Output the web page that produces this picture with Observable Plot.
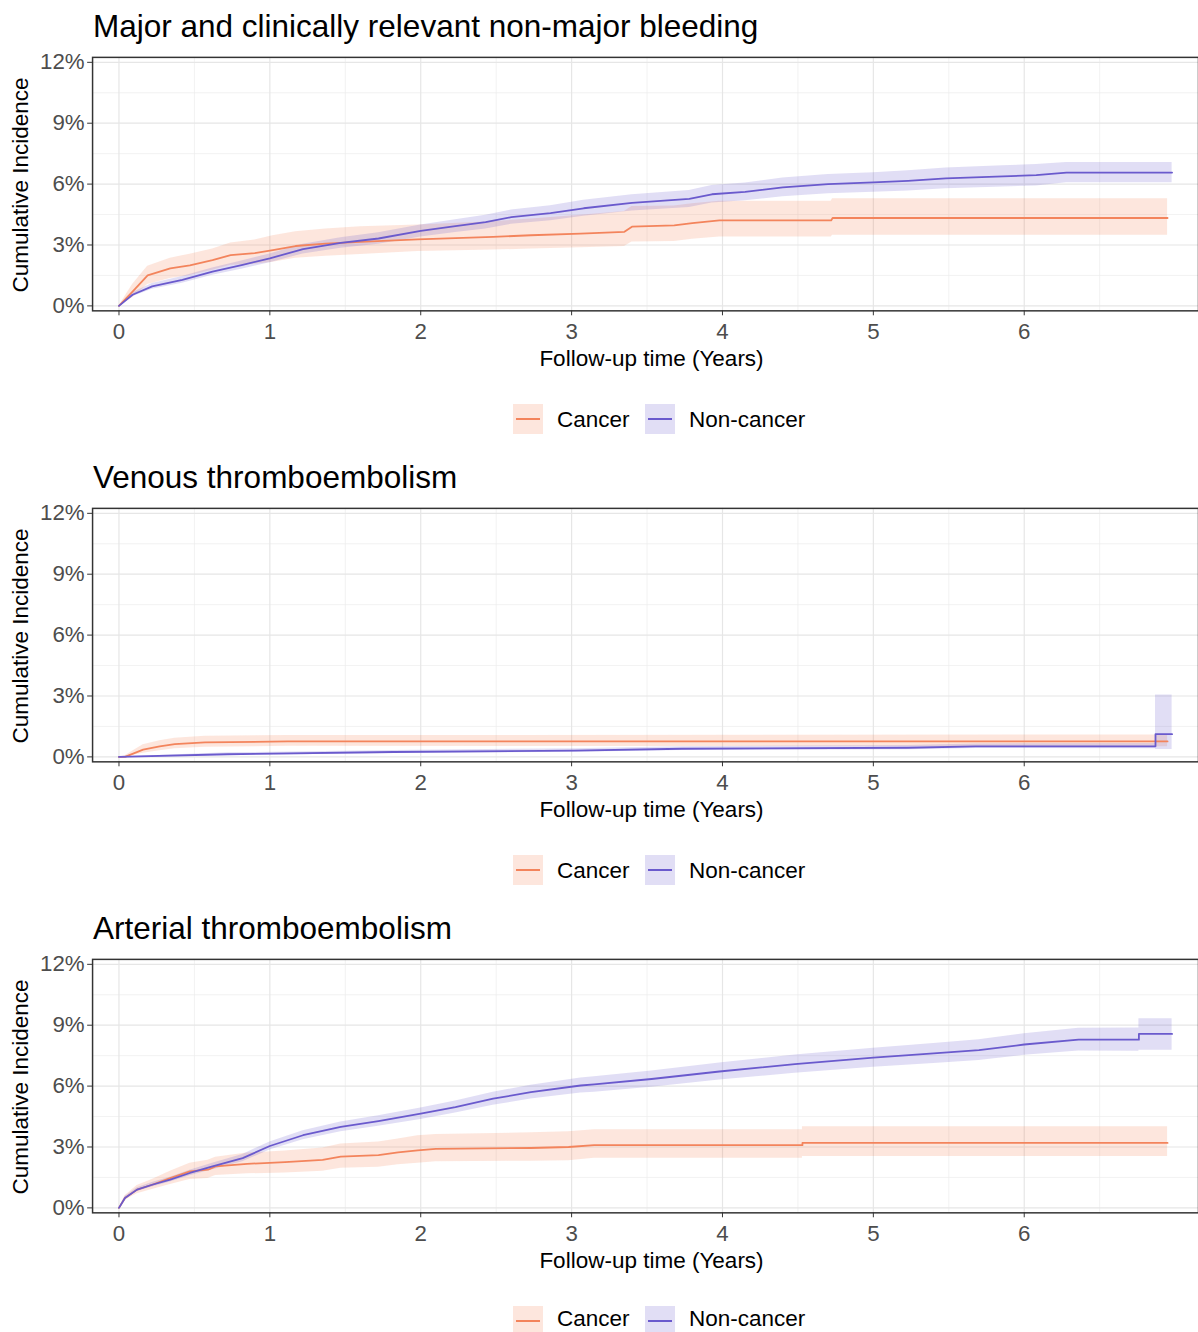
<!DOCTYPE html>
<html>
<head>
<meta charset="utf-8">
<script src="https://cdn.jsdelivr.net/npm/d3@7"></script>
<script src="https://cdn.jsdelivr.net/npm/@observablehq/plot@0.6"></script>
<style>
  html, body { margin: 0; padding: 0; background: #fff; overflow: hidden; }
  body { font-family: "Liberation Sans", Arial, Helvetica, sans-serif; }
  #root { position: relative; width: 1198px; height: 1332px; overflow: hidden; }
  .panel { position: absolute; left: 0; width: 1198px; height: 451px; overflow: hidden; }
  .panel.last { height: 430px; }
  .title { position: absolute; left: 93px; top: 11px; font-size: 31.5px; line-height: 1; color: #000; white-space: nowrap; }
  .xtitle { position: absolute; left: 651.5px; top: 348px; transform: translateX(-50%); font-size: 22.5px; line-height: 1; white-space: nowrap; color: #000; }
  .ytitle { position: absolute; left: 21px; top: 185px; transform: translate(-50%, -50%) rotate(-90deg); font-size: 22.5px; line-height: 1; white-space: nowrap; color: #000; }
  .chart { position: absolute; left: 0; top: 45px; }
  .key { position: absolute; top: 404px; width: 30px; height: 30px; }
  .key span { position: absolute; left: 3px; right: 3px; top: 14px; height: 2px; }
  .ltext { position: absolute; top: 411px; font-size: 22.5px; line-height: 18px; white-space: nowrap; color: #000; }
  .last .ltext { top: 408px; }
</style>
</head>
<body>
<div id="root"></div>
<script>
// ---------- data ----------
const groups = ["Cancer", "Non-cancer"];
const lineColors = ["#F3845C", "#6A5ACD"];
const bandColors = ["#F26B38", "#6A5ACD"];
const bandOpacity = [0.17, 0.2];
const panelTitles = ["Major and clinically relevant non-major bleeding", "Venous thromboembolism", "Arterial thromboembolism"];
const xTicks = [0, 1, 2, 3, 4, 5, 6];
const xMinor = [0.5, 1.5, 2.5, 3.5, 4.5, 5.5, 6.5];
const yTicks = [0, 3, 6, 9, 12];
const yMinor = [1.5, 4.5, 7.5, 10.5];
const xDomain = [-0.175, 7.155];
const yDomain = [-0.244, 12.244];
const xLabel = "Follow-up time (Years)";
const yLabel = "Cumulative Incidence";

// Major and clinically relevant non-major bleeding
const bleedCancerTime = [0, 0.09, 0.19, 0.34, 0.47, 0.62, 0.74, 0.9, 1.02, 1.17, 1.37, 1.6, 1.98, 2.48, 2.73, 3.06, 3.35, 3.4, 3.68, 3.8, 3.98, 4.72, 4.73, 6.95];
const bleedCancerEst  = [0, 0.7, 1.5, 1.85, 2.0, 2.25, 2.5, 2.6, 2.75, 2.95, 3.07, 3.15, 3.28, 3.4, 3.48, 3.56, 3.65, 3.9, 3.97, 4.08, 4.21, 4.21, 4.33, 4.33];
const bleedCancerHi   = [0, 1.05, 1.95, 2.35, 2.55, 2.8, 3.1, 3.25, 3.45, 3.65, 3.79, 3.9, 3.98, 4.15, 4.28, 4.46, 4.65, 4.9, 4.92, 5.03, 5.16, 5.16, 5.28, 5.28];
const bleedCancerLo   = [0, 0.4, 1.05, 1.35, 1.5, 1.75, 2.0, 2.05, 2.15, 2.35, 2.45, 2.53, 2.68, 2.75, 2.8, 2.86, 2.93, 3.15, 3.17, 3.28, 3.39, 3.39, 3.48, 3.48];
const bleedNonTime = [0, 0.09, 0.22, 0.42, 0.62, 0.82, 1.0, 1.22, 1.47, 1.72, 2.0, 2.23, 2.43, 2.6, 2.86, 3.08, 3.4, 3.78, 3.93, 4.15, 4.4, 4.7, 5.0, 5.23, 5.48, 5.86, 6.08, 6.28, 6.98];
const bleedNonEst  = [0, 0.55, 0.96, 1.28, 1.69, 2.02, 2.34, 2.8, 3.1, 3.32, 3.69, 3.93, 4.13, 4.37, 4.57, 4.81, 5.07, 5.27, 5.5, 5.62, 5.84, 6.0, 6.08, 6.16, 6.28, 6.38, 6.44, 6.57, 6.57];
const bleedNonHi   = [0, 0.65, 1.1, 1.45, 1.87, 2.22, 2.56, 3.04, 3.36, 3.6, 3.99, 4.25, 4.47, 4.72, 4.94, 5.2, 5.47, 5.69, 5.93, 6.06, 6.3, 6.47, 6.56, 6.66, 6.79, 6.9, 6.97, 7.07, 7.07];
const bleedNonLo   = [0, 0.45, 0.82, 1.11, 1.51, 1.82, 2.12, 2.56, 2.84, 3.04, 3.39, 3.61, 3.79, 4.02, 4.2, 4.42, 4.67, 4.85, 5.07, 5.18, 5.38, 5.53, 5.6, 5.66, 5.77, 5.86, 5.91, 6.07, 6.07];

// Venous thromboembolism
const vteCancerTime = [0, 0.04, 0.16, 0.27, 0.37, 0.57, 1.12, 6.95];
const vteCancerEst  = [0, 0, 0.36, 0.52, 0.63, 0.72, 0.76, 0.76];
const vteCancerHi   = [0, 0.05, 0.6, 0.8, 0.92, 1.02, 1.05, 1.08];
const vteCancerLo   = [0, 0, 0.18, 0.3, 0.4, 0.48, 0.52, 0.5];
const vteNonTime = [0, 0.72, 1.82, 3.02, 3.73, 5.23, 5.68, 6.87, 6.87, 6.98];
const vteNonEst  = [0, 0.13, 0.24, 0.31, 0.4, 0.45, 0.52, 0.52, 1.12, 1.12];
const vteNonHi   = [0, 0.2, 0.32, 0.4, 0.5, 0.56, 0.64, 0.66, 3.05, 3.05];
const vteNonLo   = [0, 0.07, 0.17, 0.23, 0.31, 0.35, 0.41, 0.4, 0.36, 0.36];

// Arterial thromboembolism
const ateCancerTime = [0, 0.04, 0.12, 0.22, 0.34, 0.47, 0.59, 0.64, 0.85, 1.1, 1.35, 1.47, 1.72, 1.85, 1.98, 2.1, 2.73, 2.98, 3.15, 4.53, 4.53, 6.95];
const ateCancerEst  = [0, 0.49, 0.9, 1.14, 1.47, 1.8, 1.88, 2.04, 2.17, 2.25, 2.36, 2.53, 2.6, 2.73, 2.83, 2.91, 2.95, 3.0, 3.09, 3.09, 3.2, 3.2];
const ateCancerHi   = [0, 0.6, 1.1, 1.4, 1.8, 2.2, 2.35, 2.5, 2.7, 2.8, 2.95, 3.15, 3.25, 3.4, 3.55, 3.62, 3.7, 3.75, 3.85, 3.85, 4.0, 4.0];
const ateCancerLo   = [0, 0.38, 0.7, 0.9, 1.15, 1.4, 1.45, 1.6, 1.68, 1.72, 1.8, 1.95, 2.0, 2.12, 2.2, 2.27, 2.3, 2.32, 2.45, 2.45, 2.53, 2.53];
const ateNonTime = [0, 0.04, 0.12, 0.22, 0.34, 0.47, 0.62, 0.82, 1.0, 1.22, 1.47, 1.72, 2.0, 2.23, 2.48, 2.73, 3.06, 3.15, 3.53, 3.98, 4.48, 5.0, 5.4, 5.7, 6.0, 6.36, 6.76, 6.76, 6.98];
const ateNonEst  = [0, 0.49, 0.9, 1.14, 1.39, 1.72, 2.04, 2.45, 3.05, 3.58, 3.99, 4.28, 4.64, 4.97, 5.38, 5.7, 6.03, 6.08, 6.35, 6.72, 7.08, 7.4, 7.61, 7.77, 8.05, 8.29, 8.29, 8.57, 8.57];
const ateNonHi   = [0, 0.56, 0.99, 1.25, 1.51, 1.86, 2.2, 2.63, 3.25, 3.8, 4.23, 4.54, 4.92, 5.27, 5.7, 6.04, 6.4, 6.46, 6.75, 7.14, 7.53, 7.87, 8.1, 8.28, 8.58, 8.85, 8.86, 9.32, 9.32];
const ateNonLo   = [0, 0.42, 0.81, 1.03, 1.27, 1.58, 1.88, 2.27, 2.85, 3.36, 3.75, 4.02, 4.36, 4.67, 5.06, 5.36, 5.66, 5.7, 5.95, 6.3, 6.63, 6.93, 7.12, 7.26, 7.52, 7.73, 7.72, 7.77, 7.77];

// ---------- build ----------
function rowsOf(group, t, est, lo, hi) {
  return t.map((v, i) => ({group, t: v, est: est[i], lo: lo[i], hi: hi[i]}));
}
const panels = [
  [rowsOf("Cancer", bleedCancerTime, bleedCancerEst, bleedCancerLo, bleedCancerHi), rowsOf("Non-cancer", bleedNonTime, bleedNonEst, bleedNonLo, bleedNonHi)],
  [rowsOf("Cancer", vteCancerTime, vteCancerEst, vteCancerLo, vteCancerHi), rowsOf("Non-cancer", vteNonTime, vteNonEst, vteNonLo, vteNonHi)],
  [rowsOf("Cancer", ateCancerTime, ateCancerEst, ateCancerLo, ateCancerHi), rowsOf("Non-cancer", ateNonTime, ateNonEst, ateNonLo, ateNonHi)]
];

const root = document.getElementById("root");
const PANEL_H = 451;

panels.forEach((series, i) => {
  const panel = document.createElement("div");
  panel.className = "panel" + (i === panels.length - 1 ? " last" : "");
  panel.style.top = (i * PANEL_H) + "px";

  const title = document.createElement("div");
  title.className = "title";
  title.textContent = panelTitles[i];
  panel.appendChild(title);

  const chart = Plot.plot({
    width: 1210,
    height: 345,
    marginLeft: 93,
    marginRight: 0,
    marginTop: 12,
    marginBottom: 77,
    style: {fontFamily: "'Liberation Sans', Arial, sans-serif", fontSize: "22.5px", background: "transparent", overflow: "visible"},
    x: {domain: xDomain},
    y: {domain: yDomain},
    marks: [
      Plot.ruleX(xMinor, {stroke: "#ececec", strokeWidth: 0.7}),
      Plot.ruleY(yMinor, {stroke: "#ececec", strokeWidth: 0.7}),
      Plot.ruleX(xTicks, {stroke: "#e6e6e6", strokeWidth: 1.2}),
      Plot.ruleY(yTicks, {stroke: "#e6e6e6", strokeWidth: 1.2}),
      ...series.map((rows, k) => Plot.areaY(rows, {x: "t", y1: "lo", y2: "hi", fill: bandColors[k], fillOpacity: bandOpacity[k], curve: "linear"})),
      ...series.map((rows, k) => Plot.line(rows, {x: "t", y: "est", stroke: lineColors[k], strokeWidth: 1.8, curve: "linear"})),
      Plot.frame({stroke: "#333", strokeWidth: 1.5}),
      Plot.axisX(xTicks, {tickSize: 5, tickPadding: 7, stroke: "#333", fill: "#4d4d4d", label: null, fontSize: 22.5, tickFormat: d => String(d)}),
      Plot.axisY(yTicks, {tickSize: 5, tickPadding: 3, stroke: "#333", fill: "#4d4d4d", label: null, fontSize: 22.5, tickFormat: d => d + "%"})
    ]
  });
  const wrap = document.createElement("div");
  wrap.className = "chart";
  wrap.appendChild(chart);
  panel.appendChild(wrap);

  const xt = document.createElement("div");
  xt.className = "xtitle";
  xt.textContent = xLabel;
  panel.appendChild(xt);

  const yt = document.createElement("div");
  yt.className = "ytitle";
  yt.textContent = yLabel;
  panel.appendChild(yt);

  const keyLefts = [513, 645];
  const textLefts = [557, 689];
  groups.forEach((g, k) => {
    const key = document.createElement("div");
    key.className = "key";
    key.style.left = keyLefts[k] + "px";
    key.style.background = d3.color(bandColors[k]).copy({opacity: bandOpacity[k]}).formatRgb();
    const ln = document.createElement("span");
    ln.style.background = lineColors[k];
    key.appendChild(ln);
    panel.appendChild(key);
    const lt = document.createElement("div");
    lt.className = "ltext";
    lt.style.left = textLefts[k] + "px";
    lt.textContent = g;
    panel.appendChild(lt);
  });

  root.appendChild(panel);
});
</script>
</body>
</html>
